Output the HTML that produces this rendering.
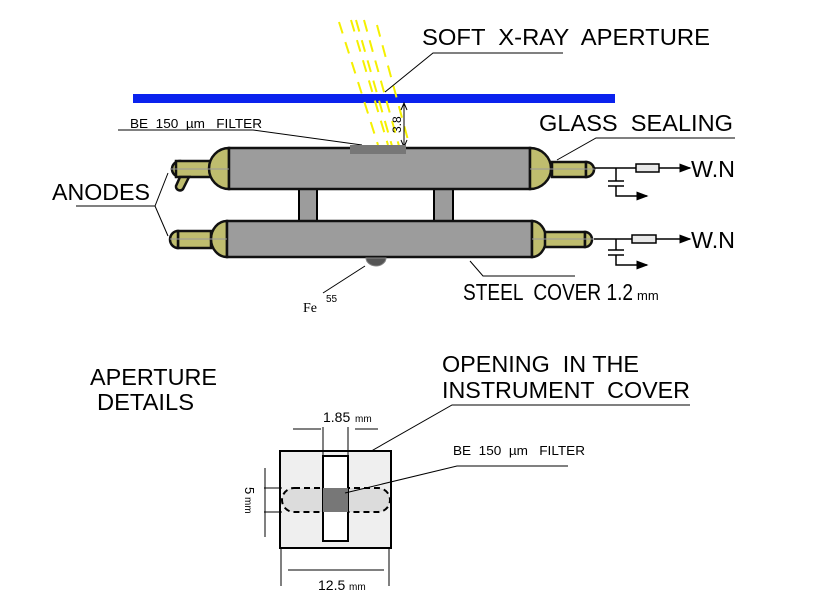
<!DOCTYPE html>
<html><head><meta charset="utf-8"><style>
html,body{margin:0;padding:0;background:#fff;}
svg{display:block;font-family:"Liberation Sans",sans-serif;}
text{white-space:pre;}
</style></head><body>
<svg width="816" height="597" viewBox="0 0 816 597" xmlns="http://www.w3.org/2000/svg" xml:space="preserve">
<defs>
<marker id="ah" markerWidth="8" markerHeight="6" refX="7" refY="3" orient="auto"><path d="M0,0 L8,3 L0,6 z" fill="#000"/></marker>
</defs>
<rect x="133" y="94" width="482" height="9" fill="#0a22ee"/>
<g stroke="#f5f000" stroke-width="2" stroke-dasharray="12,9">
<line x1="339" y1="22" x2="378" y2="145"/>
<line x1="351" y1="20" x2="388" y2="145"/>
<line x1="356" y1="20" x2="392" y2="146"/>
<line x1="364" y1="20" x2="399" y2="146"/>
<line x1="377" y1="25" x2="408" y2="140"/>
</g>
<line x1="404" y1="104" x2="404" y2="146" stroke="#000" stroke-width="1"/>
<path d="M401,110 L404,103 L407,110 M401,140 L404,147 L407,140" fill="none" stroke="#000"/>
<text x="0" y="0" font-size="12" transform="translate(401,133) rotate(-90)">3.8</text>
<text x="422" y="45" font-size="23" textLength="288" lengthAdjust="spacingAndGlyphs">SOFT  X-RAY  APERTURE</text>
<polyline points="385,92 433,53 563,53" fill="none" stroke="#000" stroke-width="1"/>
<text x="130" y="128" font-size="13" textLength="132" lengthAdjust="spacingAndGlyphs">BE  150  µm   FILTER</text>
<polyline points="118,130 253,130 362,145" fill="none" stroke="#000" stroke-width="1"/>
<text x="539" y="131" font-size="23" textLength="194" lengthAdjust="spacingAndGlyphs">GLASS  SEALING</text>
<polyline points="557,160 596,138 735,138" fill="none" stroke="#000" stroke-width="1"/>
<text x="52" y="200" font-size="23" textLength="98" lengthAdjust="spacingAndGlyphs">ANODES</text>
<path d="M76,206 L155,206 L168,173 M155,206 L168,236" fill="none" stroke="#000" stroke-width="1"/>
<rect x="299" y="188" width="18" height="33" fill="#9c9c9c" stroke="#000" stroke-width="2"/>
<rect x="434" y="188" width="19" height="33" fill="#9c9c9c" stroke="#000" stroke-width="2"/>
<g stroke="#111" stroke-width="2.5">
<path d="M180,161 a8,8 0 0 0 0,16 z" fill="#bfbd6e"/>
<rect x="176" y="161" width="36" height="16" fill="#bfbd6e"/>
<path d="M180,177 L189,177 L183,189 a4,4 0 0 1 -7,-3 z" fill="#bfbd6e"/>
<path d="M229,148 a20,20.5 0 0 0 0,41 z" fill="#bfbd6e"/>
<rect x="229" y="148" width="301" height="41" fill="#9c9c9c"/>
<path d="M530,148 a21,20.5 0 0 1 0,41 z" fill="#bfbd6e"/>
<rect x="552" y="162" width="34" height="15" fill="#bfbd6e"/>
<path d="M586,162 a8,7.5 0 0 1 0,15 z" fill="#bfbd6e"/>
</g>
<rect x="350" y="145" width="56" height="9" fill="#777"/>
<line x1="170" y1="169" x2="229" y2="169" stroke="#999" stroke-width="1"/>
<line x1="530" y1="169" x2="596" y2="169" stroke="#999" stroke-width="1"/>
<g stroke="#111" stroke-width="2.5">
<rect x="178" y="231" width="33" height="17" fill="#bfbd6e"/>
<path d="M178,231 a8,8.5 0 0 0 0,17 z" fill="#bfbd6e"/>
<path d="M227,221 a16,18 0 0 0 0,36 z" fill="#bfbd6e"/>
<rect x="227" y="221" width="305" height="36" fill="#9c9c9c"/>
<path d="M532,221 a14,18 0 0 1 0,36 z" fill="#bfbd6e"/>
<rect x="545" y="232" width="40" height="15" fill="#bfbd6e"/>
<path d="M585,232 a7,7.5 0 0 1 0,15 z" fill="#bfbd6e"/>
</g>
<line x1="170" y1="239" x2="227" y2="239" stroke="#999" stroke-width="1"/>
<line x1="532" y1="239" x2="594" y2="239" stroke="#999" stroke-width="1"/>
<path d="M366,258 a10,8 0 0 0 20,0 z" fill="#555" stroke="#888" stroke-width="1"/>
<line x1="365" y1="266" x2="323" y2="293" stroke="#000" stroke-width="1"/>
<text x="303" y="312" font-size="14" font-family="Liberation Serif,serif">Fe</text>
<text x="326" y="302" font-size="10">55</text>
<polyline points="470,261 483,276 575,276" fill="none" stroke="#000" stroke-width="1"/>
<text x="463" y="300" font-size="23" textLength="170" lengthAdjust="spacingAndGlyphs">STEEL  COVER 1.2</text>
<text x="637" y="300" font-size="13">mm</text>
<g stroke="#000" stroke-width="1.5" fill="none">
<line x1="594" y1="168" x2="636" y2="168"/>
<rect x="636" y="164" width="23" height="8" fill="#e8e8e8"/>
<line x1="659" y1="168" x2="690" y2="168" marker-end="url(#ah)"/>
<line x1="616" y1="168" x2="616" y2="181"/>
<line x1="608" y1="181" x2="624" y2="181"/>
<line x1="608" y1="186" x2="624" y2="186"/>
<polyline points="616,186 616,196 647,196" marker-end="url(#ah)"/>
<line x1="594" y1="239" x2="632" y2="239"/>
<rect x="632" y="235" width="24" height="8" fill="#e8e8e8"/>
<line x1="656" y1="239" x2="690" y2="239" marker-end="url(#ah)"/>
<line x1="616" y1="239" x2="616" y2="250"/>
<line x1="608" y1="250" x2="624" y2="250"/>
<line x1="608" y1="255" x2="624" y2="255"/>
<polyline points="616,255 616,265 647,265" marker-end="url(#ah)"/>
</g>
<text x="691" y="177" font-size="23" textLength="44" lengthAdjust="spacingAndGlyphs">W.N</text>
<text x="691" y="248" font-size="23" textLength="44" lengthAdjust="spacingAndGlyphs">W.N</text>
<text x="90" y="385" font-size="23" textLength="127" lengthAdjust="spacingAndGlyphs">APERTURE</text>
<text x="97" y="410" font-size="23" textLength="97" lengthAdjust="spacingAndGlyphs">DETAILS</text>
<text x="442" y="372" font-size="23" textLength="197" lengthAdjust="spacingAndGlyphs">OPENING  IN THE</text>
<text x="442" y="398" font-size="23" textLength="248" lengthAdjust="spacingAndGlyphs">INSTRUMENT  COVER</text>
<polyline points="352,462 452,405 690,405" fill="none" stroke="#000" stroke-width="1"/>
<rect x="280" y="451" width="111" height="97" fill="#efefef" stroke="#000" stroke-width="2"/>
<rect x="282" y="488" width="108" height="24" rx="12" fill="#dcdcdc" stroke="#000" stroke-width="2" stroke-dasharray="6,4"/>
<rect x="323" y="456" width="25" height="85" fill="#fff" stroke="#000" stroke-width="2"/>
<rect x="323" y="488" width="25" height="24" fill="#777"/>
<text x="453" y="455" font-size="13" textLength="132" lengthAdjust="spacingAndGlyphs">BE  150  µm   FILTER</text>
<polyline points="345,493 457,466 568,466" fill="none" stroke="#000" stroke-width="1"/>
<g stroke="#000" stroke-width="1" fill="none">
<line x1="323" y1="427" x2="323" y2="456"/>
<line x1="348" y1="427" x2="348" y2="456"/>
<line x1="293" y1="429" x2="321" y2="429"/>
<line x1="355" y1="429" x2="378" y2="429"/>
<line x1="264" y1="488" x2="282" y2="488"/>
<line x1="264" y1="512" x2="282" y2="512"/>
<line x1="265" y1="468" x2="265" y2="537"/>
<line x1="281" y1="548" x2="281" y2="586"/>
<line x1="389" y1="548" x2="389" y2="586"/>
<line x1="288" y1="570" x2="384" y2="570"/>
</g>
<text x="323" y="422" font-size="14">1.85</text>
<text x="355" y="422" font-size="10">mm</text>
<text x="0" y="0" font-size="13" transform="translate(245,487) rotate(90)">5</text>
<text x="0" y="0" font-size="10" transform="translate(245,497) rotate(90)">mm</text>
<text x="318" y="590" font-size="14">12.5</text>
<text x="349" y="590" font-size="10">mm</text>
</svg>
</body></html>
